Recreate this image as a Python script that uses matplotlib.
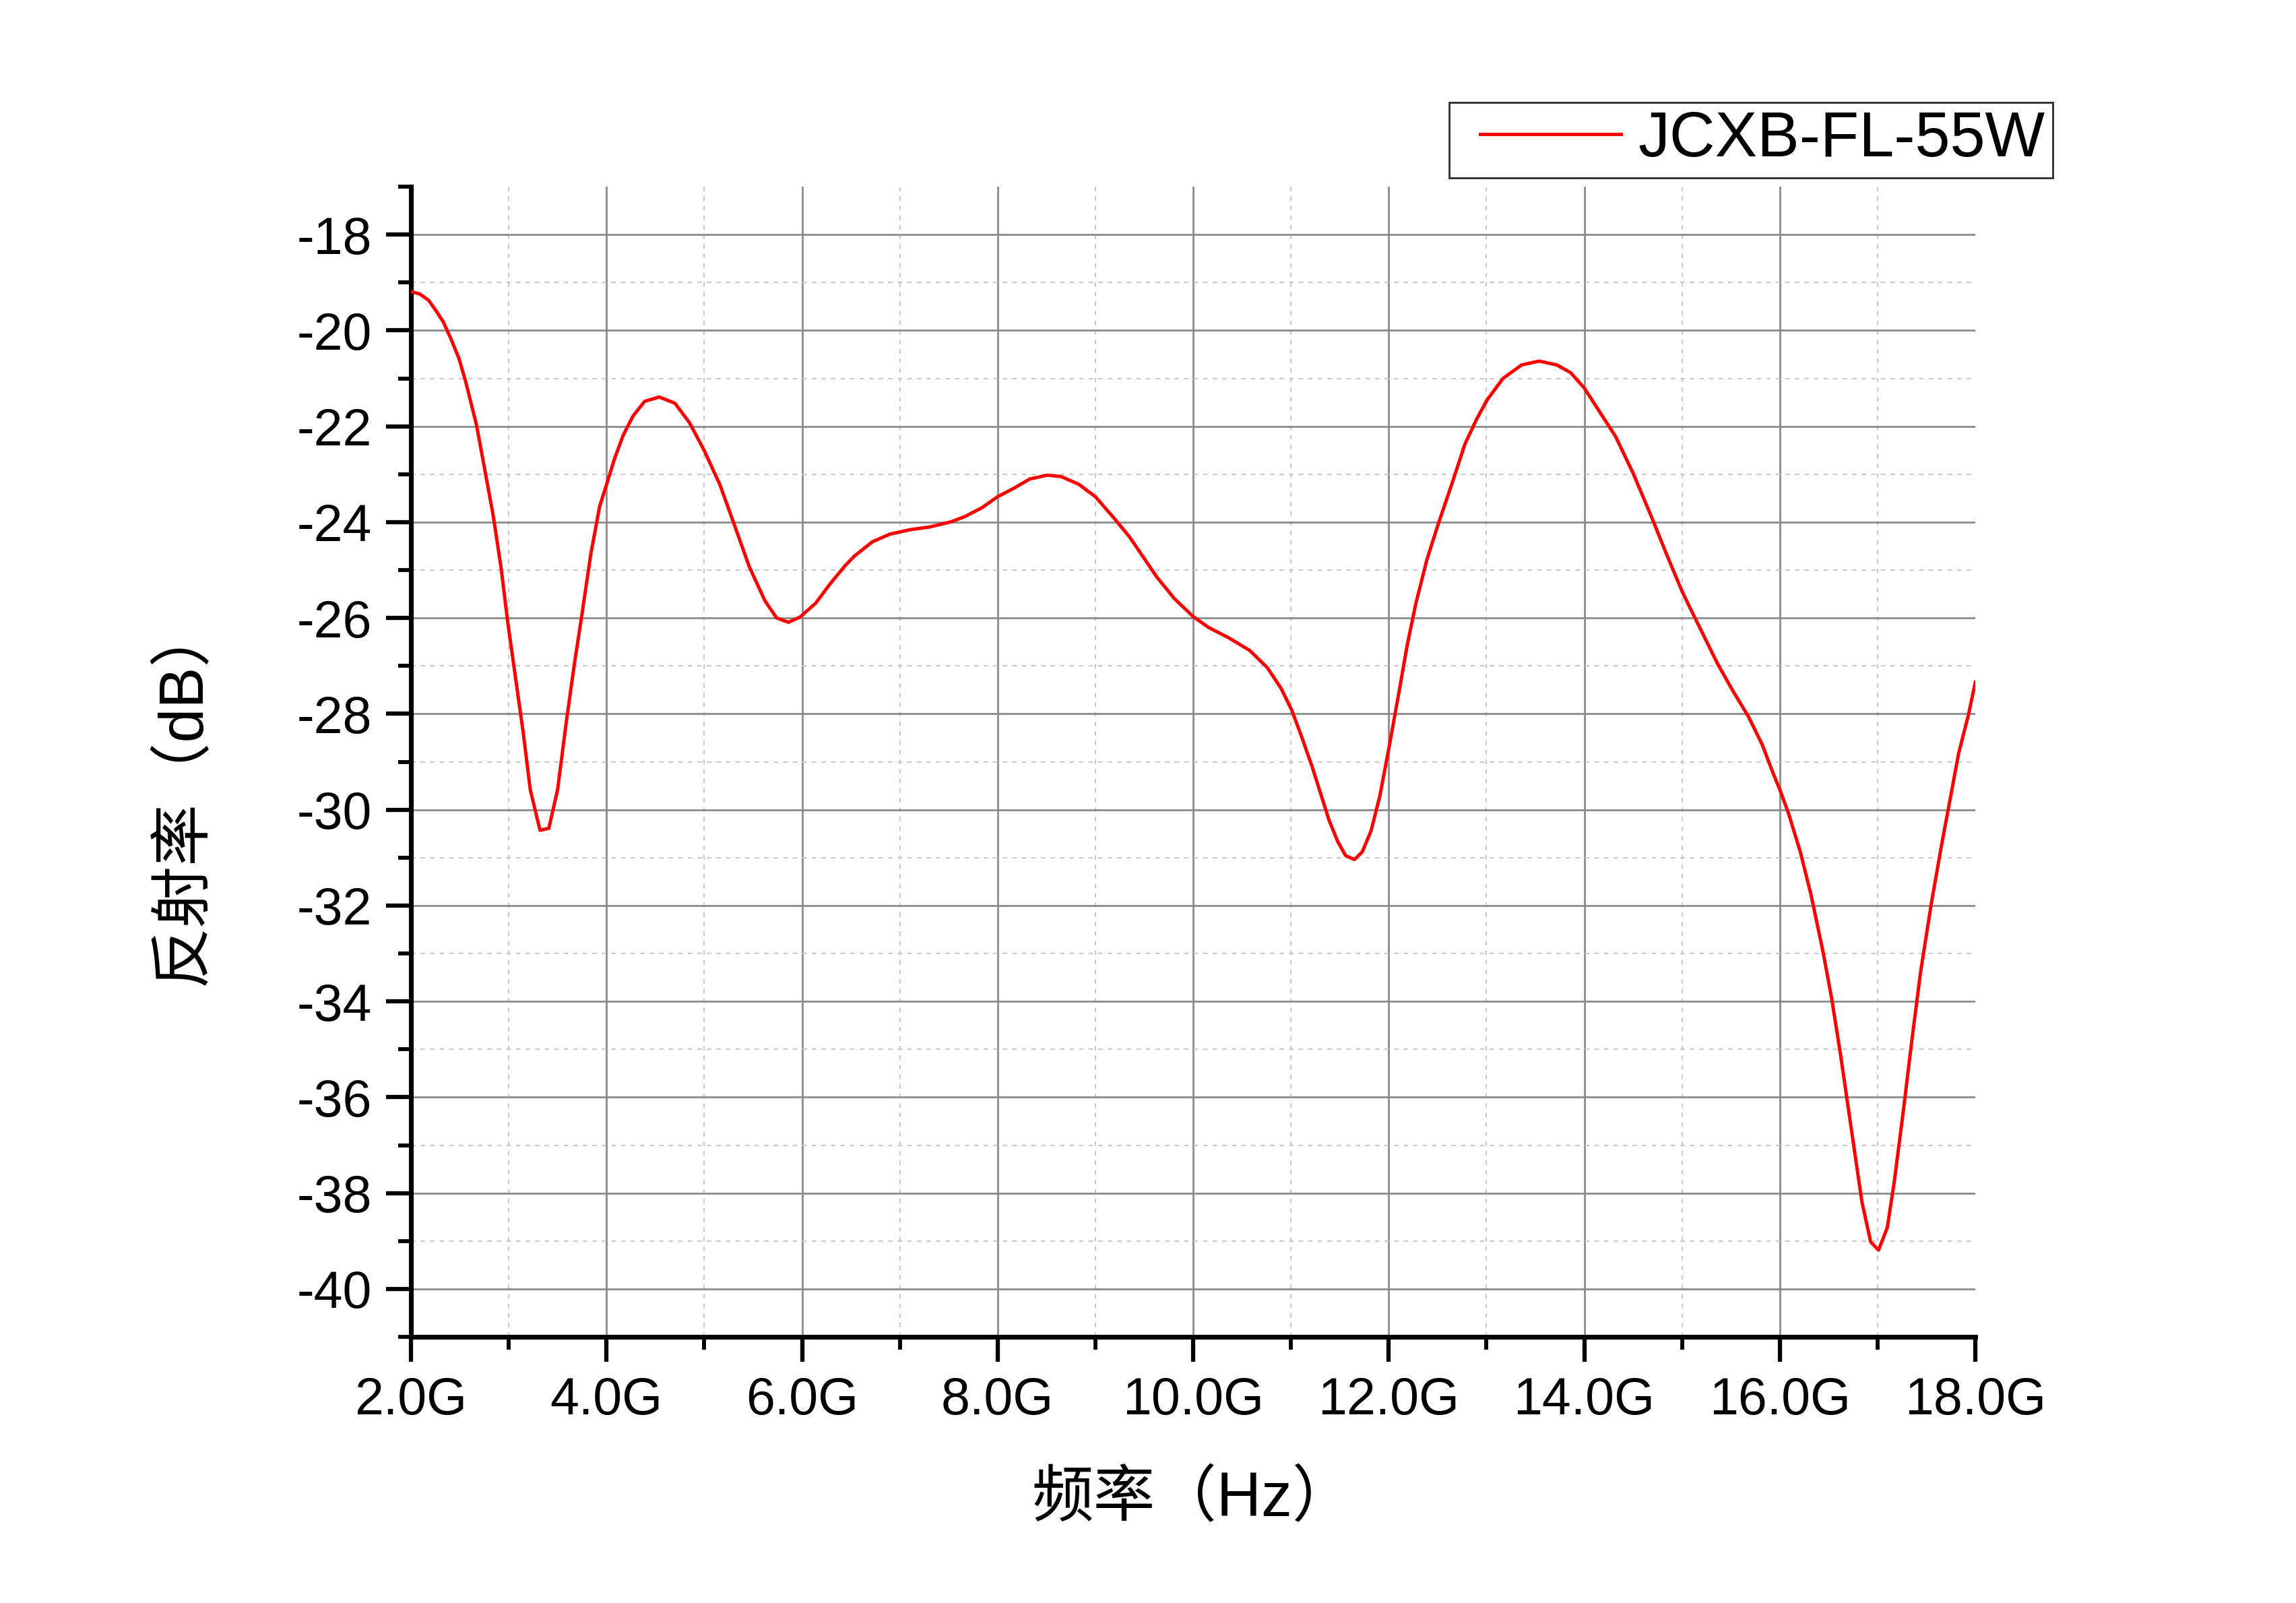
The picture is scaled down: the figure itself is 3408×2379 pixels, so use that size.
import matplotlib
matplotlib.use("Agg")
import matplotlib.pyplot as plt
from matplotlib.lines import Line2D
from matplotlib.legend_handler import HandlerLine2D
from matplotlib.ticker import FuncFormatter

# Reflectivity curve (GHz, dB)
freq_ghz = [
    2.00, 2.09, 2.18, 2.26, 2.33, 2.41, 2.49, 2.56, 2.67, 2.76, 2.84, 2.92,
    2.99, 3.07, 3.15, 3.22, 3.32, 3.41, 3.50, 3.59, 3.67, 3.75, 3.84, 3.93,
    4.00, 4.08, 4.17, 4.27, 4.39, 4.54, 4.70, 4.85, 5.00, 5.16, 5.31, 5.46,
    5.62, 5.74, 5.86, 5.98, 6.14, 6.29, 6.44, 6.54, 6.72, 6.90, 7.10, 7.31,
    7.53, 7.67, 7.84, 8.00, 8.16, 8.33, 8.51, 8.65, 8.83, 9.00, 9.18, 9.35,
    9.49, 9.63, 9.81, 10.00, 10.16, 10.37, 10.58, 10.76, 10.90, 11.01, 11.11,
    11.22, 11.32, 11.39, 11.48, 11.56, 11.65, 11.73, 11.82, 11.91, 12.00,
    12.10, 12.19, 12.28, 12.39, 12.51, 12.65, 12.78, 12.90, 13.01, 13.17,
    13.36, 13.54, 13.72, 13.86, 14.00, 14.18, 14.32, 14.50, 14.69, 14.85,
    15.00, 15.08, 15.22, 15.36, 15.52, 15.68, 15.82, 15.93, 16.00, 16.09,
    16.21, 16.32, 16.44, 16.53, 16.62, 16.69, 16.76, 16.84, 16.93, 17.01,
    17.10, 17.17, 17.26, 17.35, 17.44, 17.55, 17.65, 17.74, 17.83, 17.93, 18.00,
]
reflect_db = [
    -19.19, -19.24, -19.37, -19.60, -19.82, -20.18, -20.58, -21.07, -21.97, -22.96, -23.85, -24.93,
    -26.09, -27.25, -28.42, -29.58, -30.43, -30.39, -29.58, -28.15, -26.98, -25.91, -24.66, -23.67,
    -23.22, -22.69, -22.19, -21.79, -21.48, -21.39, -21.52, -21.93, -22.51, -23.22, -24.07, -24.93,
    -25.64, -26.00, -26.09, -25.98, -25.69, -25.28, -24.91, -24.70, -24.41, -24.25, -24.16, -24.10,
    -23.99, -23.88, -23.70, -23.47, -23.30, -23.10, -23.02, -23.05, -23.21, -23.47, -23.89, -24.31,
    -24.73, -25.15, -25.60, -25.97, -26.20, -26.42, -26.68, -27.04, -27.47, -27.93, -28.48,
    -29.12, -29.77, -30.22, -30.67, -30.96, -31.04, -30.88, -30.44, -29.71, -28.74,
    -27.61, -26.56, -25.68, -24.79, -24.02, -23.18, -22.37, -21.85, -21.44, -21.00,
    -20.72, -20.64, -20.72, -20.88, -21.20, -21.77, -22.21, -22.98, -23.90, -24.71,
    -25.44, -25.78, -26.36, -26.94, -27.52, -28.06, -28.64, -29.23, -29.58, -30.08,
    -30.88, -31.78, -32.94, -33.93, -35.09, -36.08, -37.06, -38.18, -39.02, -39.19,
    -38.72, -37.78, -36.35, -34.83, -33.39, -31.96, -30.79, -29.81, -28.82, -28.02, -27.34,
]

x_major = [2, 4, 6, 8, 10, 12, 14, 16, 18]
x_minor = [3, 5, 7, 9, 11, 13, 15, 17]
y_major = [-40, -38, -36, -34, -32, -30, -28, -26, -24, -22, -20, -18]
y_minor = [-41, -39, -37, -35, -33, -31, -29, -27, -25, -23, -21, -19, -17]

series_label = "JCXB-FL-55W"
xlabel = "频率（Hz）"
ylabel = "反射率（dB）"

plt.rcParams["font.family"] = ["Liberation Sans", "Noto Sans CJK SC"]
plt.rcParams["axes.unicode_minus"] = False

fig = plt.figure(figsize=(3408 / 300, 2379 / 300), dpi=300)
ax = fig.add_axes([610 / 3408, 1 - 1984 / 2379, 2322 / 3408, 1707 / 2379])

ax.plot(freq_ghz, reflect_db, color="#ff0000", lw=1.2, label=series_label, zorder=3)

ax.set_xlim(2, 18)
ax.set_ylim(-41, -17)
ax.set_xticks(x_major)
ax.set_xticks(x_minor, minor=True)
ax.set_yticks(y_major)
ax.set_yticks(y_minor, minor=True)
ax.xaxis.set_major_formatter(FuncFormatter(lambda v, _: f"{v:.1f}G"))

for side in ("top", "right"):
    ax.spines[side].set_visible(False)
for side in ("left", "bottom"):
    ax.spines[side].set_linewidth(1.7)

ax.tick_params(which="major", direction="out", length=8.9, width=1.5, labelsize=18.5, pad=5)
ax.tick_params(which="minor", direction="out", length=4.6, width=1.4)

ax.grid(which="major", color="#888888", lw=0.65, ls="-")
ax.grid(which="minor", color="#c8c8c8", lw=0.5, ls=(0, (3.2, 3.6)))

# no grid line on top of the axes lines or at the open top/right edges
for loc, tick in zip(ax.get_xticks(), ax.xaxis.get_major_ticks()):
    if loc in (2, 18):
        tick.gridline.set_visible(False)
for loc, tick in zip(ax.get_yticks(minor=True), ax.yaxis.get_minor_ticks()):
    if loc in (-41, -17):
        tick.gridline.set_visible(False)
ax.set_axisbelow(True)

ax.set_xlabel(xlabel, fontsize=22, labelpad=16)
ax.set_ylabel(ylabel, fontsize=22)
ax.yaxis.set_label_coords(-0.1265, 0.473)

# legend box sits above the plot, sticking out past the right end of the axes
leg = fig.legend(
    loc="upper right", bbox_to_anchor=(3047 / 3408, 1 - 152 / 2379),
    fontsize=22.5, frameon=True, fancybox=False, edgecolor="black",
    handlelength=2.61, handletextpad=0.27, borderpad=0.12, borderaxespad=0,
    handler_map={Line2D: HandlerLine2D(xpad=0.38)},
)
leg.get_frame().set_linewidth(0.7)

fig.savefig("out.png", dpi=300, facecolor="white")
